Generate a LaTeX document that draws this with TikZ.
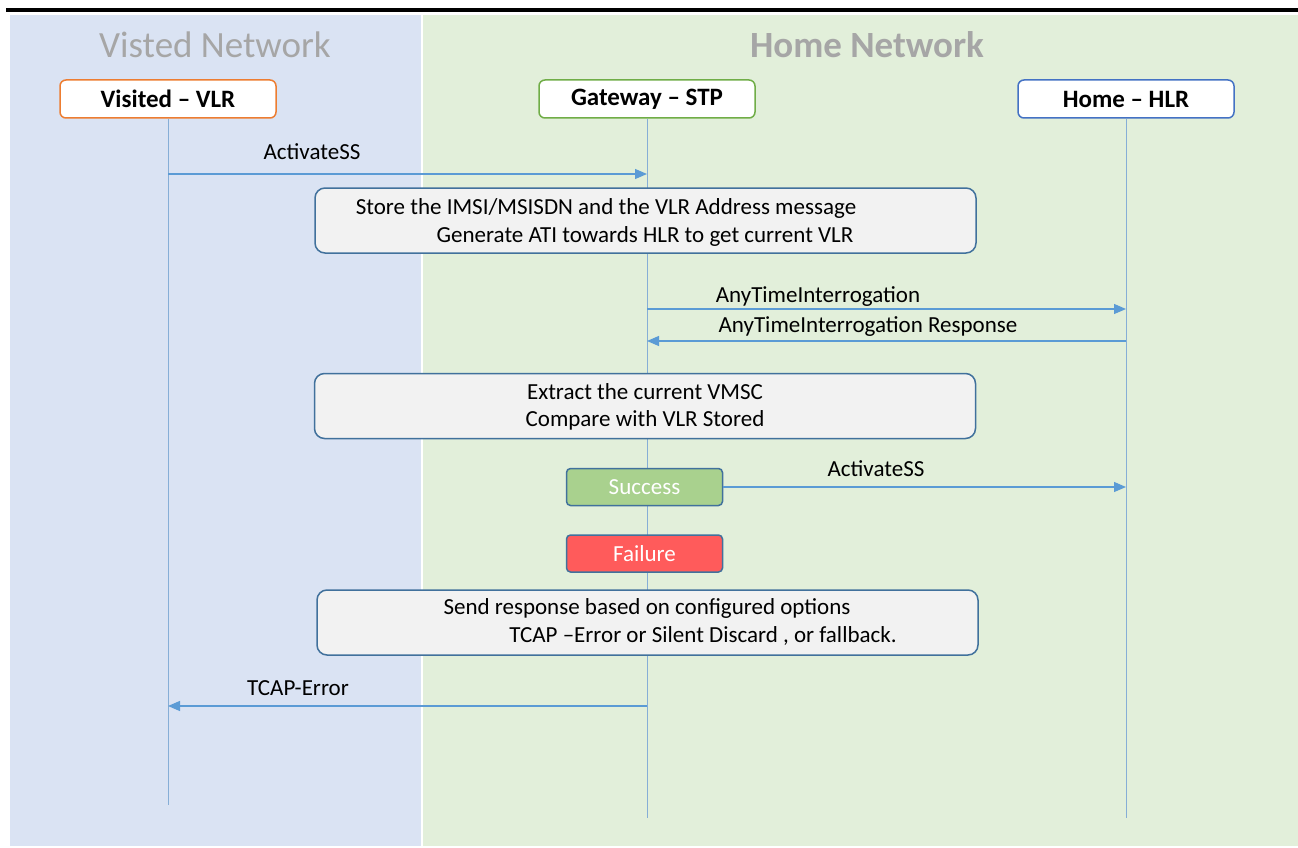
\documentclass[tikz,border=0pt]{standalone}
\usepackage{fontspec}
\setmainfont{Carlito}
\usepackage{xcolor}
\usepackage{tikz}
\usetikzlibrary{arrows.meta,positioning}
\definecolor{visitbg}{HTML}{DAE3F3}
\definecolor{homebg}{HTML}{E2EFDA}
\definecolor{titlegray}{HTML}{A6A6A6}
\definecolor{headorange}{HTML}{ED7D31}
\definecolor{headgreen}{HTML}{70AD47}
\definecolor{headblue}{HTML}{4472C4}
\definecolor{msgblue}{HTML}{5B9BD5}
\definecolor{lifeblue}{HTML}{86AED6}
\definecolor{noteedge}{HTML}{41719C}
\definecolor{notefill}{HTML}{F2F2F2}
\definecolor{okfill}{HTML}{A9D18E}
\definecolor{failfill}{HTML}{FF5B5B}
\tikzset{
  head/.style={draw,line width=1.5pt,rounded corners=6pt,fill=white,minimum width=216pt,minimum height=38pt,font=\fontsize{25}{29}\selectfont\bfseries},
  note/.style={draw=noteedge,line width=1.5pt,rounded corners=10pt,fill=notefill,minimum width=661pt,minimum height=65pt},
  state/.style={draw=noteedge,line width=1.5pt,rounded corners=4pt,minimum width=156pt,minimum height=37pt,text=white,font=\fontsize{23}{27}\selectfont},
  msg/.style={msgblue,line width=1.2pt,-{Triangle[length=12pt,width=10pt]}},
  life/.style={lifeblue,line width=1pt},
  txt/.style={font=\fontsize{23}{27}\selectfont}
}
\begin{document}
\begin{tikzpicture}[x=1pt,y=-1pt]
\useasboundingbox (0,0) rectangle (1298,848);
% panels
\fill[visitbg] (10,15) rectangle (421,846);
\fill[homebg] (423,15) rectangle (1298,846);
\draw[line width=4pt] (6,10) -- (1298,10);
\node[titlegray,font=\fontsize{37}{42}\selectfont] (vtitle) at (215,45) {Visted Network};
\node[titlegray,font=\fontsize{37}{42}\selectfont\bfseries] (htitle) at (867,45) {Home Network};
% heads and lifelines
\node[head,draw=headorange] (vlr) at (168,99) {Visited – VLR};
\node[head,draw=headgreen] (stp) at (647,99) {Gateway – STP};
\node[head,draw=headblue] (hlr) at (1126,99) {Home – HLR};
\coordinate (vlrend) at (168,805);
\coordinate (stpend) at (647,818);
\coordinate (hlrend) at (1126,818);
\foreach \n in {vlr,stp,hlr}{
  \draw[life] (\n.south) -- (\n end);}
% notes
\node[note] (store) at (645.5,220.5) {};
\node[txt] (storea) at (606,208) {Store the IMSI/MSISDN and the VLR Address message};
\node[txt] (storeb) at (645,236) {Generate ATI towards HLR to get current VLR};
\node[note] (extract) at (645,406) {};
\node[txt] (extracta) at (645,392) {Extract the current VMSC};
\node[txt] (extractb) at (645,420) {Compare with VLR Stored};
\node[state,fill=okfill] (ok) at (644.5,487) {Success};
\node[state,fill=failfill] (fail) at (644.5,553.5) {Failure};
\node[note] (reply) at (647.5,622.5) {};
\node[txt] (replya) at (647,608) {Send response based on configured options};
\node[txt] (replyb) at (703,636) {TCAP –Error or Silent Discard , or fallback.};
% messages
\coordinate (m1a) at (168,174); \coordinate (m1b) at (647,174);
\coordinate (m2a) at (647,309); \coordinate (m2b) at (1126,309);
\coordinate (m3a) at (1126,341); \coordinate (m3b) at (647,341);
\coordinate (m5a) at (647,706); \coordinate (m5b) at (168,706);
\draw[msg] (m1a) -- (m1b);
\draw[msg] (m2a) -- (m2b);
\draw[msg] (m3a) -- (m3b);
\draw[msg] (ok.east) -- (ok.east -| hlrend);
\draw[msg] (m5a) -- (m5b);
\node[txt] (m1) at (312,152) {ActivateSS};
\node[txt] (m2) at (818,297) {AnyTimeInterrogation};
\node[txt] (m3) at (868,327) {AnyTimeInterrogation Response};
\node[txt] (m4) at (876,469) {ActivateSS};
\node[txt] (m5) at (298,688) {TCAP-Error};
\end{tikzpicture}
\end{document}
